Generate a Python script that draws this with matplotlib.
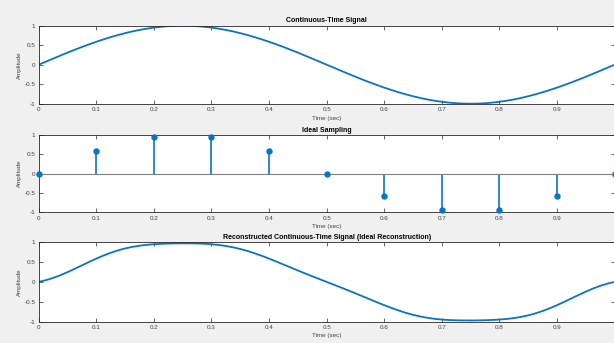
import numpy as np
import matplotlib
matplotlib.use("Agg")
import matplotlib.pyplot as plt

# ---- data ----
t_fine = [i * 0.0125 for i in range(81)]
x_cont = [0.000, 0.078, 0.156, 0.233, 0.309, 0.383, 0.454, 0.522, 0.588, 0.649, 0.707, 0.760, 0.809, 0.853, 0.891, 0.924, 0.951,
          0.972, 0.988, 0.997, 1.000, 0.997, 0.988, 0.972, 0.951, 0.924, 0.891, 0.853, 0.809, 0.760, 0.707, 0.649, 0.588, 0.522,
          0.454, 0.383, 0.309, 0.233, 0.156, 0.078, 0.000, -0.078, -0.156, -0.233, -0.309, -0.383, -0.454, -0.522, -0.588, -0.649,
          -0.707, -0.760, -0.809, -0.853, -0.891, -0.924, -0.951, -0.972, -0.988, -0.997, -1.000, -0.997, -0.988, -0.972, -0.951,
          -0.924, -0.891, -0.853, -0.809, -0.760, -0.707, -0.649, -0.588, -0.522, -0.454, -0.383, -0.309, -0.233, -0.156, -0.078,
          0.000]
t_samp = [0.0, 0.1, 0.2, 0.3, 0.4, 0.5, 0.6, 0.7, 0.8, 0.9, 1.0]
x_samp = [0.0, 0.588, 0.951, 0.951, 0.588, 0.0, -0.588, -0.951, -0.951, -0.588, 0.0]
x_rec = [0.000, 0.044, 0.100, 0.168, 0.246, 0.330, 0.417, 0.504, 0.588, 0.666, 0.735, 0.795, 0.845, 0.884, 0.914, 0.936, 0.951,
         0.961, 0.968, 0.972, 0.974, 0.973, 0.970, 0.963, 0.951, 0.933, 0.907, 0.873, 0.831, 0.781, 0.722, 0.658, 0.588, 0.515,
         0.439, 0.364, 0.289, 0.215, 0.142, 0.071, 0.000, -0.071, -0.142, -0.215, -0.289, -0.364, -0.439, -0.515, -0.588, -0.658,
         -0.722, -0.781, -0.831, -0.873, -0.907, -0.933, -0.951, -0.963, -0.970, -0.973, -0.974, -0.972, -0.968, -0.961, -0.951,
         -0.936, -0.914, -0.884, -0.845, -0.795, -0.735, -0.666, -0.588, -0.504, -0.417, -0.330, -0.246, -0.168, -0.100, -0.044,
         0.000]
titles = ["Continuous-Time Signal", "Ideal Sampling",
          "Reconstructed Continuous-Time Signal (Ideal Reconstruction)"]
xticks = [0, 0.1, 0.2, 0.3, 0.4, 0.5, 0.6, 0.7, 0.8, 0.9, 1.0]
xticklabels = ["0", "0.1", "0.2", "0.3", "0.4", "0.5", "0.6", "0.7", "0.8", "0.9", ""]
yticks = [-1, -0.5, 0, 0.5, 1]
yticklabels = ["-1", "-0.5", "0", "0.5", "1"]

plt.rcParams['font.family'] = ['Liberation Sans', 'DejaVu Sans']
BLUE = '#0A74C0'
DARK = '#262626'

fig = plt.figure(figsize=(6.14, 3.43), dpi=100, facecolor='#f0f0f0')
W, H = 614.0, 343.0
boxes = [(38.7, 25.7, 103.7), (38.7, 135.0, 212.3), (38.7, 242.3, 321.5)]
axes = []
for (l, top, bot) in boxes:
    ax = fig.add_axes([l / W, 1 - bot / H, (614.6 - l) / W, (bot - top) / H])
    axes.append(ax)

for i, ax in enumerate(axes):
    ax.set_facecolor('white')
    ax.set_xlim(0, 1)
    ax.set_ylim(-1, 1)
    ax.set_xticks(xticks)
    ax.set_xticklabels(xticklabels)
    ax.set_yticks(yticks)
    ax.set_yticklabels(yticklabels)
    ax.tick_params(direction='in', length=2.6, width=0.5, colors=DARK,
                   labelsize=4.5, labelcolor='#404040', top=True, right=True, pad=2.5)
    for s in ax.spines.values():
        s.set_color(DARK)
        s.set_linewidth(0.6)
    ax.set_title(titles[i], fontsize=5, fontweight='bold', pad=2.5, color='black')
    ax.set_xlabel('Time (sec)', fontsize=4.5, color='#404040', labelpad=2.5)
    ax.set_ylabel('Amplitude', fontsize=4.5, color='#404040', labelpad=1.5)

axes[0].plot(t_fine, x_cont, color=BLUE, lw=1.3, clip_on=True)

ml, sl, bl = axes[1].stem(t_samp, x_samp, linefmt='-', markerfmt='o', basefmt='-')
plt.setp(sl, color=BLUE, linewidth=1.2)
plt.setp(ml, color=BLUE, markersize=3.6, clip_on=False, zorder=4)
plt.setp(bl, color='#808080', linewidth=0.8)

axes[2].plot(t_fine, x_rec, color=BLUE, lw=1.3)

fig.savefig('out.png', dpi=100, facecolor=fig.get_facecolor())
